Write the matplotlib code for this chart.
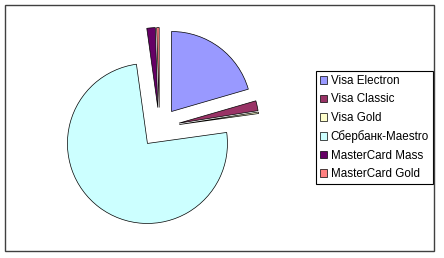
import matplotlib
matplotlib.use("Agg")
import matplotlib.pyplot as plt
from matplotlib.patches import Rectangle

labels = ['Visa Electron', 'Visa Classic', 'Visa Gold',
          'Сбербанк-Maestro', 'MasterCard Mass', 'MasterCard Gold']
shares = [20.5, 2.0, 0.3, 75.0, 1.7, 0.5]
colors = ['#9999FF', '#993366', '#FFFFCC', '#CCFFFF', '#660066', '#FF8080']

W, H = 444, 258
fig = plt.figure(figsize=(W / 100, H / 100), dpi=100)
ax = fig.add_axes([0, 0, 1, 1])

# explode is in data units here (pixels), radius 80 px
wedges, _ = ax.pie(shares, colors=colors, startangle=90, counterclock=False,
                   radius=80, center=(159.5, H - 127.5),
                   explode=[20] * len(shares),
                   wedgeprops=dict(edgecolor='black', linewidth=0.5))
ax.set_xlim(0, W)
ax.set_ylim(0, H)
ax.set_aspect('equal')
ax.axis('off')

# outer chart border
fig.patches.append(Rectangle((5 / W, 7 / H), 429 / W, 246 / H,
                             transform=fig.transFigure, fill=False,
                             edgecolor='#404040', linewidth=1.0))

leg = ax.legend(wedges, labels, loc='upper left',
                bbox_to_anchor=(316 / W, 1 - 71 / H), borderaxespad=0,
                prop={'family': 'Liberation Sans', 'size': 8.4},
                handlelength=0.6, handleheight=0.6, handletextpad=0.3,
                labelspacing=0.55, borderpad=0.35,
                fancybox=False, framealpha=1, edgecolor='black')
leg.get_frame().set_linewidth(0.8)

fig.savefig('out.png', dpi=100)
